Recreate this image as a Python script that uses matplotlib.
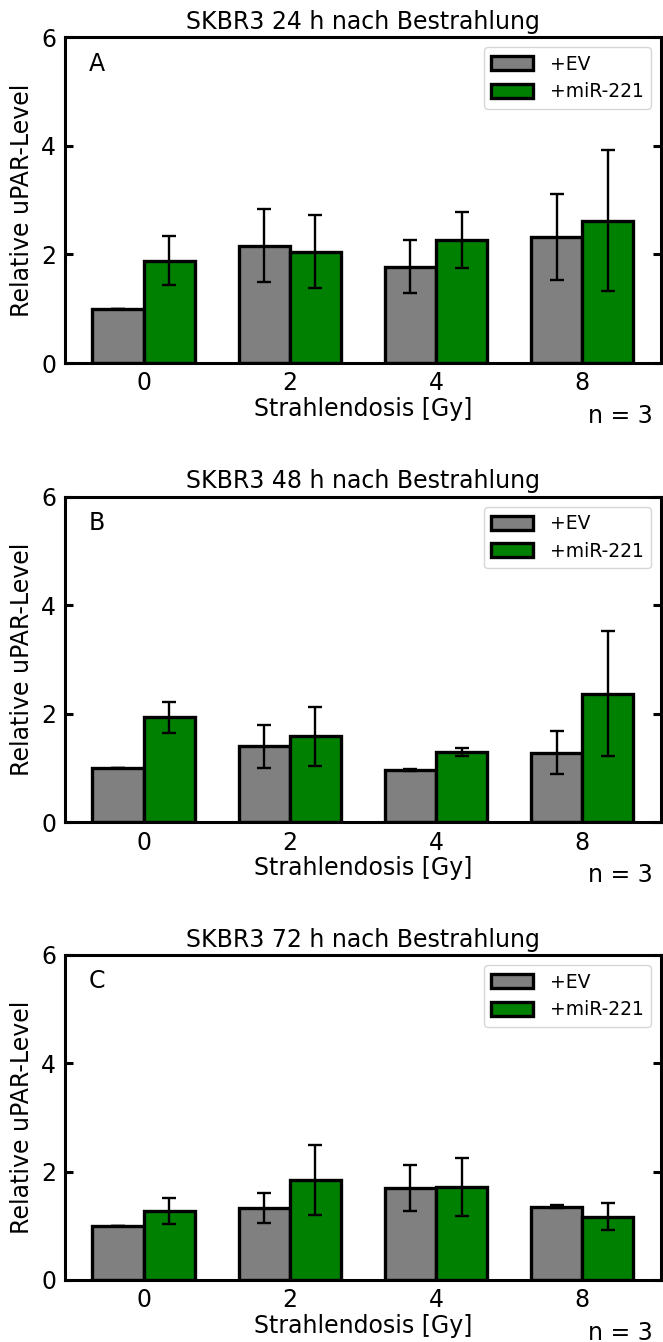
import numpy as np
import matplotlib
matplotlib.use("Agg")
import matplotlib.pyplot as plt

doses = ["0", "2", "4", "8"]
series_labels = ["+EV", "+miR-221"]

# 24 h
ev_24 = [1.0, 2.16, 1.77, 2.32]
ev_24_err = [0.0, 0.67, 0.49, 0.80]
mir_24 = [1.88, 2.05, 2.26, 2.62]
mir_24_err = [0.45, 0.67, 0.52, 1.30]

# 48 h
ev_48 = [1.0, 1.40, 0.97, 1.28]
ev_48_err = [0.0, 0.40, 0.02, 0.40]
mir_48 = [1.93, 1.58, 1.29, 2.37]
mir_48_err = [0.29, 0.54, 0.07, 1.15]

# 72 h
ev_72 = [1.0, 1.33, 1.70, 1.35]
ev_72_err = [0.0, 0.28, 0.42, 0.03]
mir_72 = [1.28, 1.85, 1.72, 1.17]
mir_72_err = [0.24, 0.65, 0.54, 0.25]

panels = [
    ("A", "SKBR3 24 h nach Bestrahlung", ev_24, ev_24_err, mir_24, mir_24_err),
    ("B", "SKBR3 48 h nach Bestrahlung", ev_48, ev_48_err, mir_48, mir_48_err),
    ("C", "SKBR3 72 h nach Bestrahlung", ev_72, ev_72_err, mir_72, mir_72_err),
]

plt.rcParams["font.family"] = ["DejaVu Sans"]
plt.rcParams["font.size"] = 17

fig = plt.figure(figsize=(6.63, 13.42), dpi=100)
# axes rectangles in figure fractions: left, bottom, width, height
rects = [
    [0.0974, 0.7295, 0.900, 0.2429],
    [0.0974, 0.3873, 0.900, 0.2427],
    [0.0974, 0.0462, 0.900, 0.2422],
]

ind = np.arange(len(doses))
width = 0.35
err_kw = dict(elinewidth=1.7, capthick=1.7, ecolor="black")

for rect, (letter, title, ev, ev_err, mir, mir_err) in zip(rects, panels):
    ax = fig.add_axes(rect)
    ax.bar(ind - width / 2, ev, width, yerr=ev_err, color="grey",
           edgecolor="black", linewidth=2.4, capsize=5, error_kw=err_kw,
           label=series_labels[0])
    ax.bar(ind + width / 2, mir, width, yerr=mir_err, color="green",
           edgecolor="black", linewidth=2.4, capsize=5, error_kw=err_kw,
           label=series_labels[1])
    ax.set_xlim(-0.54, 3.54)
    ax.set_ylim(0, 6)
    ax.set_yticks([0, 2, 4, 6])
    ax.set_xticks(ind)
    ax.set_xticklabels(doses)
    for s in ax.spines.values():
        s.set_linewidth(2.2)
    ax.tick_params(direction="in", right=True, top=False, length=6,
                   width=2.2, labelsize=17, pad=6)
    ax.set_title(title, fontsize=17, pad=6)
    ax.set_xlabel("Strahlendosis [Gy]", fontsize=17, labelpad=1)
    ax.set_ylabel("Relative uPAR-Level", fontsize=17, labelpad=5)
    ax.text(0.041, 0.897, letter, transform=ax.transAxes, fontsize=17,
            va="baseline", ha="left")
    ax.text(0.985, -0.184, "n = 3", transform=ax.transAxes, fontsize=17,
            va="baseline", ha="right")
    ax.legend(loc="upper right", fontsize=13.5, handlelength=2.2,
              handleheight=0.75, handletextpad=0.9, labelspacing=0.45,
              borderaxespad=0.55)

fig.savefig("out.png", dpi=100)
